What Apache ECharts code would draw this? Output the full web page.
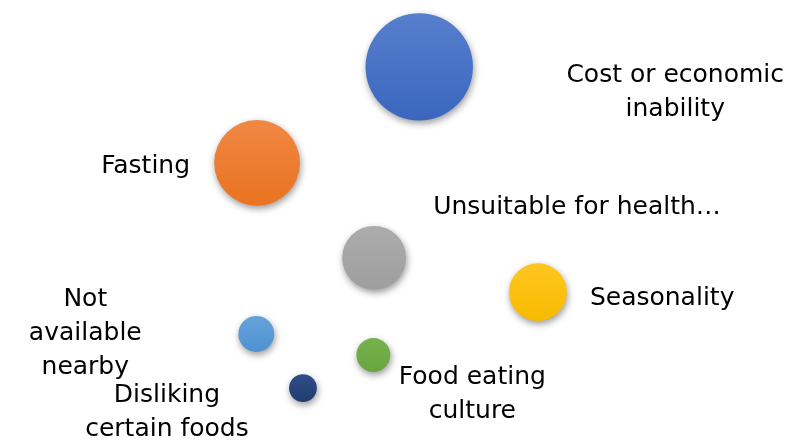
<!DOCTYPE html>
<html>
<head>
<meta charset="utf-8">
<style>
  html, body { margin: 0; padding: 0; background: #fff; }
  #main { width: 791px; height: 440px; }
</style>
<script src="https://cdn.jsdelivr.net/npm/echarts@6/dist/echarts.min.js"></script>
</head>
<body>
<div id="main"></div>
<script>
// reasons for not eating certain foods (bubble chart, no axes shown)
var categories = ['Cost or economic\ninability', 'Fasting', 'Unsuitable for health…', 'Seasonality',
  'Not\navailable\nnearby', 'Food eating\nculture', 'Disliking\ncertain foods'];
var xValues = [53.0, 32.5, 47.3, 68.0, 32.4, 47.2, 38.3];
var yValues = [84.8, 63.0, 41.4, 33.6, 24.1, 19.3, 11.8];
var sizes = [58, 37, 20.5, 16.8, 6.5, 5.8, 3.9];
var colorsLight = ['#587fcd', '#f08844', '#acacac', '#ffc61f', '#65a3da', '#78b250', '#304f88'];
var colorsDark = ['#3a66bf', '#e9731f', '#9e9e9e', '#f7bb00', '#4f91d0', '#67a53f', '#213d70'];

// label anchor relative to bubble centre
var labelOffset = [[256, 26], [-67, 4], [59, -50], [52, 6], [-171, 0], [99, 39], [-136, 24]];
var labelAlign = ['center', 'right', 'left', 'left', 'center', 'center', 'center'];

var chart = echarts.init(document.getElementById('main'));

var points = [];
for (var i = 0; i < categories.length; i++) {
  points.push({
    name: categories[i],
    value: [xValues[i], yValues[i], sizes[i]],
    itemStyle: {
      color: new echarts.graphic.LinearGradient(0, 0, 0, 1, [
        { offset: 0, color: colorsLight[i] },
        { offset: 1, color: colorsDark[i] }
      ])
    },
    label: {
      offset: labelOffset[i],
      align: labelAlign[i]
    }
  });
}

chart.setOption({
  animation: false,
  grid: { left: 0, right: 0, top: 0, bottom: 0 },
  xAxis: { type: 'value', min: 0, max: 100, show: false },
  yAxis: { type: 'value', min: 0, max: 100, show: false },
  series: [{
    type: 'scatter',
    data: points,
    symbolSize: function (v) { return Math.sqrt(v[2]) * 14.1; },
    itemStyle: {
      opacity: 1,
      shadowBlur: 7,
      shadowOffsetY: 3,
      shadowOffsetX: 1,
      shadowColor: 'rgba(0,0,0,0.4)'
    },
    label: {
      show: true,
      position: 'inside',
      verticalAlign: 'middle',
      formatter: '{b}',
      color: '#000',
      opacity: 1,
      fontFamily: 'DejaVu Sans',
      fontSize: 25,
      lineHeight: 34
    }
  }]
});
</script>
</body>
</html>
